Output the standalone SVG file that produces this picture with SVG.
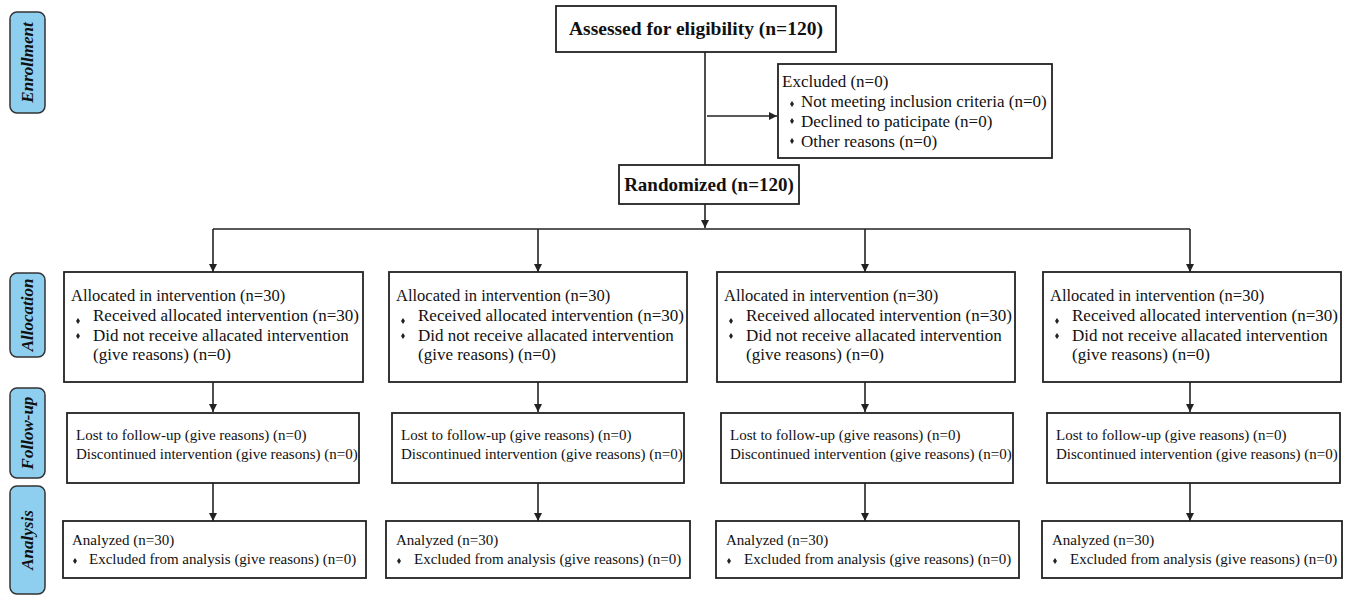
<svg xmlns="http://www.w3.org/2000/svg" width="1350" height="614" viewBox="0 0 1350 614">
<style>
.box{fill:#fff;stroke:#222;stroke-width:1.8}
.side{fill:#8ecff0;stroke:#333;stroke-width:1.5}
.sidet{font-family:"Liberation Serif","Times New Roman","DejaVu Serif",serif;font-weight:bold;font-style:italic;font-size:17px;fill:#111;text-anchor:middle}
.title{font-family:"Liberation Serif","Times New Roman","DejaVu Serif",serif;font-weight:bold;fill:#111;text-anchor:middle}
.t{font-family:"Liberation Serif","Times New Roman","DejaVu Serif",serif;fill:#111}
.t15{font-size:16.5px}
.t17{font-size:17px}
.t14{font-size:15px}
.t15e{font-size:17px}
.line{stroke:#222;stroke-width:1.6;fill:none}
.bul{fill:#222}
</style>
<defs>
<marker id="arr" markerWidth="10" markerHeight="10" refX="9" refY="5" orient="auto" markerUnits="userSpaceOnUse">
<path d="M1,1 L9,5 L1,9 Z" fill="#222"/>
</marker>
<path id="dia" d="M0,-3 L2,0 L0,3 L-2,0 Z"/>
</defs>
<rect width="1350" height="614" fill="#fff"/>

<g id="side-enrollment">
<rect class="side" x="10" y="12" width="35" height="101" rx="7"/>
<text class="sidet" transform="translate(33,62.5) rotate(-90)">Enrollment</text>
</g>
<g id="side-allocation">
<rect class="side" x="10" y="273" width="35" height="84" rx="7"/>
<text class="sidet" transform="translate(33,315) rotate(-90)">Allocation</text>
</g>
<g id="side-followup">
<rect class="side" x="10" y="388" width="35" height="90" rx="7"/>
<text class="sidet" transform="translate(33,433) rotate(-90)">Follow-up</text>
</g>
<g id="side-analysis">
<rect class="side" x="10" y="486" width="35" height="108" rx="7"/>
<text class="sidet" transform="translate(33,540) rotate(-90)">Analysis</text>
</g>

<g id="connectors">
<line class="line" x1="705" y1="52" x2="705" y2="165"/>
<line class="line" x1="707" y1="116" x2="777" y2="116" marker-end="url(#arr)"/>
<line class="line" x1="705" y1="204" x2="705" y2="228" marker-end="url(#arr)"/>
<line class="line" x1="213" y1="229" x2="1190" y2="229"/>
<line class="line" x1="213" y1="229" x2="213" y2="272" marker-end="url(#arr)"/>
<line class="line" x1="538" y1="229" x2="538" y2="272" marker-end="url(#arr)"/>
<line class="line" x1="865" y1="229" x2="865" y2="272" marker-end="url(#arr)"/>
<line class="line" x1="1190" y1="229" x2="1190" y2="272" marker-end="url(#arr)"/>
<line class="line" x1="213" y1="382" x2="213" y2="412" marker-end="url(#arr)"/>
<line class="line" x1="538" y1="382" x2="538" y2="412" marker-end="url(#arr)"/>
<line class="line" x1="865" y1="382" x2="865" y2="412" marker-end="url(#arr)"/>
<line class="line" x1="1190" y1="382" x2="1190" y2="412" marker-end="url(#arr)"/>
<line class="line" x1="213" y1="483" x2="213" y2="521" marker-end="url(#arr)"/>
<line class="line" x1="538" y1="483" x2="538" y2="521" marker-end="url(#arr)"/>
<line class="line" x1="865" y1="483" x2="865" y2="521" marker-end="url(#arr)"/>
<line class="line" x1="1190" y1="483" x2="1190" y2="521" marker-end="url(#arr)"/>
</g>

<g id="assessed">
<rect class="box" x="556" y="6" width="280" height="46"/>
<text class="title" x="696" y="35" font-size="19.5">Assessed for eligibility (n=120)</text>
</g>
<g id="excluded">
<rect class="box" x="778" y="64" width="274" height="94"/>
<text class="t t15e" x="782" y="87">Excluded (n=0)</text>
<use href="#dia" x="792" y="104" class="bul"/>
<text class="t t15e" x="801" y="107">Not meeting inclusion criteria (n=0)</text>
<use href="#dia" x="792" y="121" class="bul"/>
<text class="t t15e" x="801" y="127">Declined to paticipate (n=0)</text>
<use href="#dia" x="792" y="141" class="bul"/>
<text class="t t15e" x="801" y="147">Other reasons (n=0)</text>
</g>
<g id="randomized">
<rect class="box" x="619" y="165" width="180" height="39"/>
<text class="title" x="709" y="191" font-size="19">Randomized (n=120)</text>
</g>

<g id="alloc-1">
<rect class="box" x="64" y="272" width="299" height="110"/>
<text class="t t15" x="71" y="301">Allocated in intervention (n=30)</text>
<use href="#dia" x="78" y="321" class="bul"/>
<text class="t t17" x="93" y="321">Received allocated intervention (n=30)</text>
<use href="#dia" x="78" y="336" class="bul"/>
<text class="t t17" x="93" y="341">Did not receive allacated intervention</text>
<text class="t t17" x="93" y="360">(give reasons) (n=0)</text>
</g>
<g id="alloc-2">
<rect class="box" x="389" y="272" width="298" height="110"/>
<text class="t t15" x="396" y="301">Allocated in intervention (n=30)</text>
<use href="#dia" x="403" y="321" class="bul"/>
<text class="t t17" x="418" y="321">Received allocated intervention (n=30)</text>
<use href="#dia" x="403" y="336" class="bul"/>
<text class="t t17" x="418" y="341">Did not receive allacated intervention</text>
<text class="t t17" x="418" y="360">(give reasons) (n=0)</text>
</g>
<g id="alloc-3">
<rect class="box" x="717" y="272" width="298" height="110"/>
<text class="t t15" x="724" y="301">Allocated in intervention (n=30)</text>
<use href="#dia" x="731" y="321" class="bul"/>
<text class="t t17" x="746" y="321">Received allocated intervention (n=30)</text>
<use href="#dia" x="731" y="336" class="bul"/>
<text class="t t17" x="746" y="341">Did not receive allacated intervention</text>
<text class="t t17" x="746" y="360">(give reasons) (n=0)</text>
</g>
<g id="alloc-4">
<rect class="box" x="1043" y="272" width="298" height="110"/>
<text class="t t15" x="1050" y="301">Allocated in intervention (n=30)</text>
<use href="#dia" x="1057" y="321" class="bul"/>
<text class="t t17" x="1072" y="321">Received allocated intervention (n=30)</text>
<use href="#dia" x="1057" y="336" class="bul"/>
<text class="t t17" x="1072" y="341">Did not receive allacated intervention</text>
<text class="t t17" x="1072" y="360">(give reasons) (n=0)</text>
</g>

<g id="follow-1">
<rect class="box" x="67" y="413" width="292" height="70"/>
<text class="t t14" x="76" y="440">Lost to follow-up (give reasons) (n=0)</text>
<text class="t t14" x="76" y="459">Discontinued intervention (give reasons) (n=0)</text>
</g>
<g id="follow-2">
<rect class="box" x="392" y="413" width="292" height="70"/>
<text class="t t14" x="401" y="440">Lost to follow-up (give reasons) (n=0)</text>
<text class="t t14" x="401" y="459">Discontinued intervention (give reasons) (n=0)</text>
</g>
<g id="follow-3">
<rect class="box" x="721" y="413" width="292" height="70"/>
<text class="t t14" x="730" y="440">Lost to follow-up (give reasons) (n=0)</text>
<text class="t t14" x="730" y="459">Discontinued intervention (give reasons) (n=0)</text>
</g>
<g id="follow-4">
<rect class="box" x="1047" y="413" width="293" height="70"/>
<text class="t t14" x="1056" y="440">Lost to follow-up (give reasons) (n=0)</text>
<text class="t t14" x="1056" y="459">Discontinued intervention (give reasons) (n=0)</text>
</g>

<g id="analysis-1">
<rect class="box" x="63" y="521" width="303" height="57"/>
<text class="t t14" x="72" y="545">Analyzed (n=30)</text>
<use href="#dia" x="75" y="561" class="bul"/>
<text class="t t14" x="89" y="564">Excluded from analysis (give reasons) (n=0)</text>
</g>
<g id="analysis-2">
<rect class="box" x="386" y="521" width="304" height="57"/>
<text class="t t14" x="396" y="545">Analyzed (n=30)</text>
<use href="#dia" x="399" y="561" class="bul"/>
<text class="t t14" x="414" y="564">Excluded from analysis (give reasons) (n=0)</text>
</g>
<g id="analysis-3">
<rect class="box" x="716" y="521" width="303" height="57"/>
<text class="t t14" x="726" y="545">Analyzed (n=30)</text>
<use href="#dia" x="729" y="561" class="bul"/>
<text class="t t14" x="744" y="564">Excluded from analysis (give reasons) (n=0)</text>
</g>
<g id="analysis-4">
<rect class="box" x="1042" y="521" width="300" height="57"/>
<text class="t t14" x="1052" y="545">Analyzed (n=30)</text>
<use href="#dia" x="1055" y="561" class="bul"/>
<text class="t t14" x="1070" y="564">Excluded from analysis (give reasons) (n=0)</text>
</g>
</svg>
